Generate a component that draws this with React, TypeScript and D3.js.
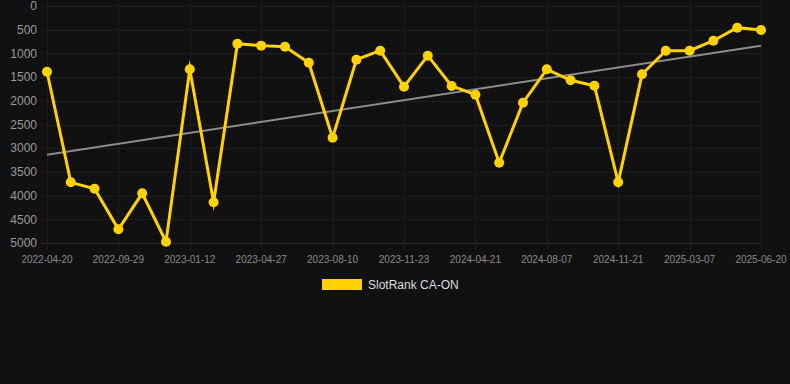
import React, { useRef, useEffect } from 'react';
import * as d3 from 'd3';

const dates = [
  '2022-04-20', '2022-05-16', '2022-06-30', '2022-09-29', '2022-10-24', '2022-11-28',
  '2023-01-12', '2023-02-06', '2023-03-09', '2023-04-27', '2023-05-22', '2023-06-19',
  '2023-08-10', '2023-09-05', '2023-10-02', '2023-11-23', '2024-01-10', '2024-03-04',
  '2024-04-21', '2024-05-20', '2024-06-24', '2024-08-07', '2024-09-03', '2024-10-08',
  '2024-11-21', '2024-12-18', '2025-01-27', '2025-03-07', '2025-04-03', '2025-05-12',
  '2025-06-20',
];

const ranks = [
  1386, 3720, 3854, 4711, 3952, 4972, 1336, 4142, 795, 836, 860, 1196,
  2778, 1133, 943, 1702, 1048, 1688, 1871, 3306, 2040, 1336, 1568, 1681,
  3720, 1441, 943, 943, 732, 457, 506,
];

const yTicks = [0, 500, 1000, 1500, 2000, 2500, 3000, 3500, 4000, 4500, 5000];

const seriesName = 'SlotRank CA-ON';

const W = 790;
const H = 384;

const App = () => {
  const ref = useRef<SVGSVGElement>(null);

  useEffect(() => {
    document.body.style.margin = '0';
    document.body.style.background = '#111111';
    const svg = d3.select(ref.current);
    svg.selectAll('*').remove();

    const font = '"Helvetica Neue", Helvetica, Arial, "Liberation Sans", sans-serif';

    svg.append('rect').attr('width', W).attr('height', H).attr('fill', '#111111');

    const x = d3.scalePoint<string>().domain(dates).range([47, 761]);
    const y = d3.scaleLinear().domain([0, 5000]).range([6, 243]);

    const grid = svg.append('g');
    // horizontal grid
    grid.selectAll('.hg')
      .data(yTicks)
      .enter()
      .append('line')
      .attr('x1', 41)
      .attr('x2', 762)
      .attr('y1', d => Math.round(y(d)) + 0.5)
      .attr('y2', d => Math.round(y(d)) + 0.5)
      .attr('stroke', d => (d === 5000 ? '#2a2a2a' : '#1e1e1e'))
      .attr('stroke-width', 1);

    const labeled = dates.filter((_, i) => i % 3 === 0);
    grid.selectAll('.vg')
      .data(labeled)
      .enter()
      .append('line')
      .attr('x1', d => Math.round(x(d)!) + 0.5)
      .attr('x2', d => Math.round(x(d)!) + 0.5)
      .attr('y1', 0)
      .attr('y2', 250)
      .attr('stroke', '#1e1e1e')
      .attr('stroke-width', 1);

    // y labels
    svg.append('g')
      .selectAll('text')
      .data(yTicks)
      .enter()
      .append('text')
      .attr('x', 37)
      .attr('y', d => y(d))
      .attr('dy', '0.35em')
      .attr('text-anchor', 'end')
      .attr('fill', '#9a9a9a')
      .attr('font-family', font)
      .attr('font-size', 12)
      .text(d => d);

    // x labels
    svg.append('g')
      .selectAll('text')
      .data(labeled)
      .enter()
      .append('text')
      .attr('x', d => x(d)!)
      .attr('y', 259)
      .attr('dy', '0.35em')
      .attr('text-anchor', 'middle')
      .attr('fill', '#8a8a8a')
      .attr('font-family', font)
      .attr('font-size', 10)
      .text(d => d);

    // trend line (least squares)
    const n = ranks.length;
    const idx = d3.range(n);
    const mx = d3.mean(idx)!;
    const my = d3.mean(ranks)!;
    const slope = d3.sum(idx, i => (i - mx) * (ranks[i] - my)) / d3.sum(idx, i => (i - mx) ** 2);
    const icpt = my - slope * mx;
    svg.append('line')
      .attr('x1', x(dates[0])!)
      .attr('y1', y(icpt))
      .attr('x2', x(dates[n - 1])!)
      .attr('y2', y(icpt + slope * (n - 1)))
      .attr('stroke', '#8c8c8c')
      .attr('stroke-width', 2);

    const line = d3.line<number>()
      .x((_, i) => x(dates[i])!)
      .y(d => y(d));

    svg.append('path')
      .datum(ranks)
      .attr('d', line)
      .attr('fill', 'none')
      .attr('stroke', '#FFD200')
      .attr('stroke-width', 3)
      .attr('stroke-linejoin', 'miter')
      .attr('stroke-miterlimit', 10);

    svg.append('g')
      .selectAll('circle')
      .data(ranks)
      .enter()
      .append('circle')
      .attr('cx', (_, i) => x(dates[i])!)
      .attr('cy', d => y(d))
      .attr('r', 5)
      .attr('fill', '#FFD200');

    // legend
    const legend = svg.append('g');
    legend.append('rect')
      .attr('x', 322)
      .attr('y', 279)
      .attr('width', 40)
      .attr('height', 11)
      .attr('fill', '#FFD200');
    legend.append('text')
      .attr('x', 368)
      .attr('y', 285)
      .attr('dy', '0.35em')
      .attr('fill', '#dddddd')
      .attr('font-family', font)
      .attr('font-size', 12)
      .text(seriesName);
  }, []);

  return <svg ref={ref} width={W} height={H} style={{ display: 'block' }} />;
};

export default App;
